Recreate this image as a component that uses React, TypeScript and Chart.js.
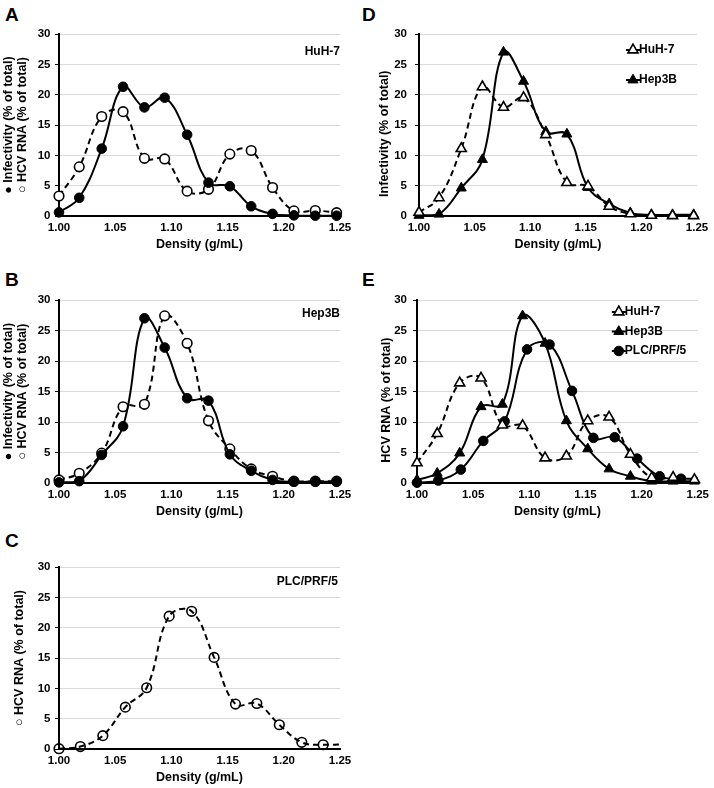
import React, { useEffect, useRef } from 'react';
import { Chart, registerables } from 'chart.js';

Chart.register(...registerables);

const FONT = '"Liberation Sans", Arial, Helvetica, sans-serif';

// Densities of the gradient fractions (g/mL)
const densityHuh7Hep3B = [1.0, 1.018, 1.038, 1.057, 1.076, 1.094, 1.114, 1.133, 1.152, 1.171, 1.19, 1.209, 1.228, 1.247];
const densityPlc = [1.0, 1.019, 1.039, 1.059, 1.078, 1.098, 1.118, 1.138, 1.157, 1.176, 1.196, 1.216, 1.235, 1.255];

// Series values (% of total)
const huh7Infectivity = [0.6, 3.0, 11.1, 21.3, 17.9, 19.5, 13.4, 5.5, 4.9, 1.6, 0.35, 0.1, 0.05, 0.05];
const huh7Rna = [3.3, 8.1, 16.4, 17.2, 9.5, 9.4, 4.1, 4.4, 10.2, 10.8, 4.7, 0.85, 0.9, 0.55];
const hep3bInfectivity = [0.1, 0.3, 4.6, 9.3, 27.0, 22.2, 13.9, 13.5, 4.7, 2.0, 0.5, 0.2, 0.2, 0.2];
const hep3bRna = [0.5, 1.6, 4.9, 12.5, 12.9, 27.4, 22.9, 10.2, 5.6, 2.3, 1.1, 0.3, 0.3, 0.3];
const plcRna = [0.05, 0.4, 2.2, 6.9, 10.1, 21.9, 22.7, 15.1, 7.4, 7.5, 4.0, 1.1, 0.7, 0.8];

// Tick labels
const xTickValues = [1.0, 1.05, 1.1, 1.15, 1.2, 1.25];
const yTickValues = [0, 5, 10, 15, 20, 25, 30];
const xMin = 1.0;
const xMax = 1.25;

type Marker = 'filledCircle' | 'openCircle' | 'openCircleClear' | 'filledTriangle' | 'openTriangle';

function markerStyle(m: Marker) {
  const tri = m === 'filledTriangle' || m === 'openTriangle';
  const filled = m === 'filledCircle' || m === 'filledTriangle';
  return {
    style: tri ? 'triangle' : 'circle',
    radius: tri ? 5.8 : 4.8,
    bg: filled ? '#000' : m === 'openCircleClear' ? 'rgba(255,255,255,0)' : '#fff',
    bw: filled ? 1 : 1.6,
  };
}

function series(label: string, xs: number[], ys: number[], marker: Marker, dashed: boolean) {
  const st = markerStyle(marker);
  const overflow = xs.some((x) => x > xMax);
  return {
    label,
    data: xs.map((x, i) => ({ x, y: ys[i] })),
    borderColor: '#000',
    borderWidth: 2,
    borderDash: dashed ? [6, 4] : [],
    tension: 0.4,
    fill: false,
    pointStyle: st.style,
    pointRadius: xs.map((x) => (x > xMax ? 0 : st.radius)),
    pointBackgroundColor: st.bg,
    pointBorderColor: '#000',
    pointBorderWidth: st.bw,
    clip: { left: 12, top: 12, bottom: 12, right: overflow ? 0 : 12 },
  };
}

function drawMarker(ctx: CanvasRenderingContext2D, marker: Marker, x: number, y: number) {
  const st = markerStyle(marker);
  ctx.beginPath();
  if (st.style === 'triangle') {
    let rad = 0;
    ctx.moveTo(x + Math.sin(rad) * st.radius, y - Math.cos(rad) * st.radius);
    rad += (2 * Math.PI) / 3;
    ctx.lineTo(x + Math.sin(rad) * st.radius, y - Math.cos(rad) * st.radius);
    rad += (2 * Math.PI) / 3;
    ctx.lineTo(x + Math.sin(rad) * st.radius, y - Math.cos(rad) * st.radius);
    ctx.closePath();
  } else {
    ctx.arc(x, y, st.radius, 0, Math.PI * 2);
  }
  ctx.fillStyle = st.bg;
  ctx.fill();
  ctx.lineWidth = st.bw;
  ctx.strokeStyle = '#000';
  ctx.setLineDash([]);
  ctx.stroke();
}

const overlayPlugin = {
  id: 'overlay',
  afterDatasetsDraw(chart: any, _args: any, opts: any) {
    const { ctx, chartArea } = chart;
    ctx.save();
    ctx.fillStyle = '#000';
    ctx.font = `bold 12px ${FONT}`;
    ctx.textBaseline = 'middle';
    if (opts.note) {
      ctx.textAlign = 'right';
      ctx.fillText(opts.note.text, chartArea.right + (opts.note.dx || 0), chartArea.top + opts.note.dy);
    }
    if (opts.legend) {
      const cx = chartArea.right + opts.legend.dx;
      for (const item of opts.legend.items) {
        const cy = chartArea.top + item.dy;
        ctx.beginPath();
        ctx.setLineDash([]);
        ctx.lineWidth = 2;
        ctx.strokeStyle = '#000';
        ctx.moveTo(cx - 7, cy);
        ctx.lineTo(cx + 7, cy);
        ctx.stroke();
        drawMarker(ctx, item.marker, cx, cy);
        ctx.fillStyle = '#000';
        ctx.textAlign = 'left';
        ctx.fillText(item.label, cx + 6, cy);
      }
    }
    ctx.restore();
  },
};

type PanelCfg = {
  id: string;
  panelX: number;
  plot: { l: number; r: number; t: number; b: number };
  capTop: number;
  yTitle: string | string[];
  yTitlePad: number;
  yTickPad: number;
  note?: { text: string; dy: number; dx?: number };
  legend?: { dx: number; items: { label: string; marker: Marker; dy: number }[] };
  datasets: any[];
};

const panels: PanelCfg[] = [
  {
    id: 'A',
    panelX: 0,
    plot: { l: 59, r: 340, t: 34, b: 216 },
    capTop: 7,
    yTitle: ['● Infectivity (% of total)', '○ HCV RNA (% of total)'],
    yTitlePad: 2,
    yTickPad: 4.5,
    note: { text: 'HuH-7', dy: 18 },
    datasets: [
      series('Infectivity', densityHuh7Hep3B, huh7Infectivity, 'filledCircle', false),
      series('HCV RNA', densityHuh7Hep3B, huh7Rna, 'openCircle', true),
    ],
  },
  {
    id: 'B',
    panelX: 0,
    plot: { l: 59, r: 340, t: 300, b: 483 },
    capTop: 272,
    yTitle: ['● Infectivity (% of total)', '○ HCV RNA (% of total)'],
    yTitlePad: 2,
    yTickPad: 4.5,
    note: { text: 'Hep3B', dy: 14 },
    datasets: [
      series('Infectivity', densityHuh7Hep3B, hep3bInfectivity, 'filledCircle', false),
      series('HCV RNA', densityHuh7Hep3B, hep3bRna, 'openCircle', true),
    ],
  },
  {
    id: 'C',
    panelX: 0,
    plot: { l: 59, r: 340, t: 567, b: 749 },
    capTop: 533,
    yTitle: '○ HCV RNA (% of total)',
    yTitlePad: 13,
    yTickPad: 4.5,
    note: { text: 'PLC/PRF/5', dy: 15, dx: -2 },
    datasets: [series('HCV RNA', densityPlc, plcRna, 'openCircleClear', true)],
  },
  {
    id: 'D',
    panelX: 357,
    plot: { l: 419, r: 697, t: 34, b: 216 },
    capTop: 7,
    yTitle: 'Infectivity (% of total)     ',
    yTitlePad: 21,
    yTickPad: 8,
    legend: {
      dx: -64,
      items: [
        { label: 'HuH-7', marker: 'openTriangle', dy: 16 },
        { label: 'Hep3B', marker: 'filledTriangle', dy: 46 },
      ],
    },
    datasets: [
      series('HuH-7', densityHuh7Hep3B, huh7Infectivity, 'openTriangle', true),
      series('Hep3B', densityHuh7Hep3B, hep3bInfectivity, 'filledTriangle', false),
    ],
  },
  {
    id: 'E',
    panelX: 357,
    plot: { l: 417, r: 700, t: 300, b: 483 },
    capTop: 272,
    yTitle: 'HCV RNA (% of total)     ',
    yTitlePad: 23,
    yTickPad: 6,
    legend: {
      dx: -79,
      items: [
        { label: 'HuH-7', marker: 'openTriangle', dy: 12 },
        { label: 'Hep3B', marker: 'filledTriangle', dy: 31.5 },
        { label: 'PLC/PRF/5', marker: 'filledCircle', dy: 51 },
      ],
    },
    datasets: [
      series('HuH-7', densityHuh7Hep3B, huh7Rna, 'openTriangle', true),
      series('Hep3B', densityHuh7Hep3B, hep3bRna, 'filledTriangle', false),
      series('PLC/PRF/5', densityPlc, plcRna, 'filledCircle', false),
    ],
  },
];

const PAD_TOP = 30;
const X_AXIS_H = 39;
const PANEL_W = 357;

function Panel({ cfg }: { cfg: PanelCfg }) {
  const ref = useRef<HTMLCanvasElement | null>(null);
  const height = cfg.plot.b - cfg.plot.t + PAD_TOP + X_AXIS_H;
  const top = cfg.plot.t - PAD_TOP;

  useEffect(() => {
    if (!ref.current) return;
    const chart = new Chart(ref.current, {
      type: 'line',
      data: { datasets: cfg.datasets },
      plugins: [overlayPlugin as any],
      options: {
        responsive: false,
        animation: false,
        devicePixelRatio: 1,
        events: [],
        layout: {
          padding: { top: PAD_TOP, left: 0, bottom: 0, right: cfg.panelX + PANEL_W - cfg.plot.r },
        },
        plugins: {
          legend: { display: false },
          tooltip: { enabled: false },
          overlay: { note: cfg.note, legend: cfg.legend },
        } as any,
        scales: {
          x: {
            type: 'linear',
            min: xMin,
            max: xMax,
            border: { color: '#000', width: 2 },
            grid: { display: true, drawOnChartArea: false, drawTicks: false },
            ticks: {
              padding: 5,
              color: '#000',
              maxRotation: 0,
              font: { family: FONT, size: 11.5, weight: 'bold' },
              callback: (v: any) => Number(v).toFixed(2),
            },
            afterBuildTicks: (s: any) => {
              s.ticks = xTickValues.map((value) => ({ value }));
            },
            title: {
              display: true,
              text: 'Density (g/mL)',
              color: '#000',
              font: { family: FONT, size: 12.5, weight: 'bold', lineHeight: 1.2 },
              padding: { top: 0, bottom: 2.5 },
            },
            afterFit: (s: any) => {
              s.height = X_AXIS_H;
            },
          },
          y: {
            type: 'linear',
            min: 0,
            max: 30,
            border: { color: '#000', width: 2 },
            grid: { color: '#d9d9d9', lineWidth: 1, drawTicks: true, tickLength: 4, tickColor: '#000' },
            ticks: {
              padding: cfg.yTickPad,
              color: '#000',
              font: { family: FONT, size: 11.5, weight: 'bold' },
            },
            afterBuildTicks: (s: any) => {
              s.ticks = yTickValues.map((value) => ({ value }));
            },
            title: {
              display: true,
              text: cfg.yTitle,
              color: '#000',
              font: { family: FONT, size: 12.5, weight: 'bold', lineHeight: 1.1 },
              padding: { top: cfg.yTitlePad, bottom: 0 },
            },
            afterFit: (s: any) => {
              s.width = cfg.plot.l - cfg.panelX;
            },
          },
        } as any,
      },
    } as any);
    return () => chart.destroy();
  }, [cfg]);

  return (
    <>
      <div
        style={{
          position: 'absolute',
          left: cfg.panelX + 5,
          top: cfg.capTop - 2.5,
          font: `bold 19px ${FONT}`,
          lineHeight: '19px',
          color: '#000',
        }}
      >
        {cfg.id}
      </div>
      <canvas
        ref={ref}
        width={PANEL_W}
        height={height}
        style={{ position: 'absolute', left: cfg.panelX, top, width: PANEL_W, height }}
      />
    </>
  );
}

export default function App() {
  return (
    <div
      style={{
        position: 'absolute',
        left: 0,
        top: 0,
        width: 714,
        height: 788,
        background: '#fff',
        overflow: 'hidden',
      }}
    >
      {panels.map((p) => (
        <Panel key={p.id} cfg={p} />
      ))}
    </div>
  );
}
